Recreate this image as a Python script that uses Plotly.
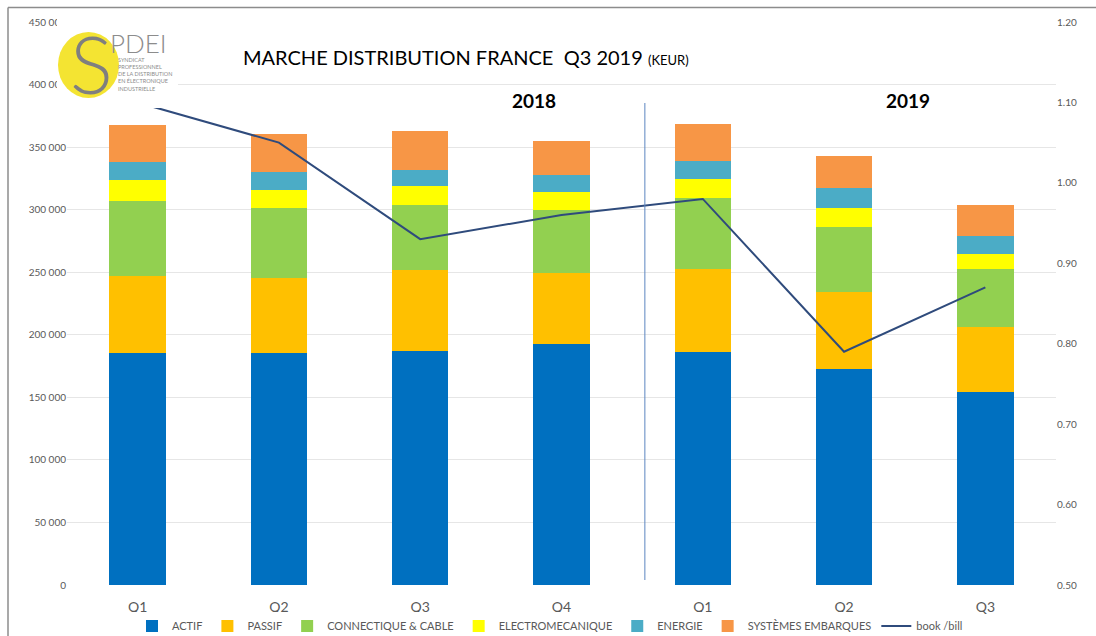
import plotly.graph_objects as go

quarters = ["Q1", "Q2", "Q3", "Q4", "Q1", "Q2", "Q3"]
actif = [185200, 185200, 187400, 192700, 186000, 172700, 154000]
passif = [61600, 60000, 64500, 56500, 66700, 61300, 52000]
connectique = [60000, 56000, 52200, 50700, 56500, 52000, 46700]
electromecanique = [16600, 14700, 15000, 14600, 15200, 15000, 12000]
energie = [14600, 14100, 12800, 13400, 14700, 16200, 14400]
systemes = [29400, 30700, 30600, 26600, 29600, 25400, 24800]
book_bill = [1.10, 1.05, 0.93, 0.96, 0.98, 0.79, 0.87]

series_names = ["ACTIF", "PASSIF", "CONNECTIQUE & CABLE", "ELECTROMECANIQUE", "ENERGIE", "SYSTÈMES EMBARQUES"]
series_values = [actif, passif, connectique, electromecanique, energie, systemes]
series_colors = ["#0070C0", "#FFC000", "#92D050", "#FFFF00", "#4BACC6", "#F79646"]

left_ticks = [0, 50000, 100000, 150000, 200000, 250000, 300000, 350000, 400000, 450000]
left_ticktext = ["0", "50 000", "100 000", "150 000", "200 000", "250 000", "300 000", "350 000", "400 000", "450 000"]

x = list(range(len(quarters)))

fig = go.Figure()
for name, vals, col in zip(series_names, series_values, series_colors):
    fig.add_trace(go.Bar(x=x, y=vals, name=name, marker=dict(color=col, line=dict(width=0)), width=0.4))

fig.add_trace(go.Scatter(x=x, y=book_bill, name="book /bill", mode="lines",
                         line=dict(color="#2F4B7C", width=2), yaxis="y2"))

W, H = 1096, 636
L, R, T, B = 67, 40, 22, 51
pw, ph = W - L - R, H - T - B

def px(xp):
    return (xp - L) / pw

def py(yp):
    return (H - B - yp) / ph

gray = "#595959"
fig.update_layout(
    width=W, height=H,
    margin=dict(l=L, r=R, t=T, b=B, autoexpand=False),
    plot_bgcolor="white", paper_bgcolor="white",
    barmode="stack",
    font=dict(family="Lato, Liberation Sans, sans-serif", color=gray),
    showlegend=True,
    legend=dict(orientation="h", x=px(550), xanchor="center", y=py(626), yanchor="middle",
                font=dict(size=11, color=gray), traceorder="normal", itemwidth=30,
                tracegroupgap=0),
    xaxis=dict(tickmode="array", tickvals=x, ticktext=quarters, range=[-0.5, 6.5],
               showgrid=False, zeroline=False, showline=False, ticks="",
               ticklabelstandoff=12,
               tickfont=dict(size=14, color=gray)),
    yaxis=dict(range=[0, 450000], tickmode="array", tickvals=left_ticks, ticktext=left_ticktext,
               showgrid=True, gridcolor="#E6E6E6", gridwidth=1, zeroline=False,
               showline=False, ticks="", tickfont=dict(size=10, color=gray)),
    yaxis2=dict(range=[0.5, 1.2], overlaying="y", side="right", dtick=0.1, tickformat=".2f",
                showgrid=False, zeroline=False, showline=False, ticks="",
                tickfont=dict(size=10, color=gray)),
)

shapes = [
    # separator between years
    dict(type="line", xref="x", yref="paper", x0=3.59, x1=3.59, y0=py(580), y1=py(103),
         line=dict(color="#5B86C0", width=1), layer="above"),
    # logo background
    dict(type="rect", xref="paper", yref="paper", x0=px(57), x1=px(178), y0=py(108), y1=py(12),
         fillcolor="white", line=dict(width=0), layer="above"),
    dict(type="circle", xref="paper", yref="paper", x0=px(58), x1=px(119), y0=py(98), y1=py(32),
         fillcolor="#F4E432", line=dict(width=0), layer="above"),
    # frame
    dict(type="line", xref="paper", yref="paper", x0=px(8), x1=px(1096), y0=py(7.5), y1=py(7.5),
         line=dict(color="#8C8C8C", width=1.5), layer="above"),
    dict(type="line", xref="paper", yref="paper", x0=px(8), x1=px(8), y0=py(7.5), y1=py(640),
         line=dict(color="#8C8C8C", width=1.5), layer="above"),
]
fig.update_layout(shapes=shapes)

ann = [
    dict(text="S", x=px(91), y=py(63), font=dict(size=80, color="#7F7F7F", family="Lato", weight=300),
         xanchor="center", yanchor="middle"),
    dict(text="PDEI", x=px(138), y=py(43), font=dict(size=26, color="#8C8C8C", family="Lato", weight=300),
         xanchor="center", yanchor="middle"),
    dict(text="SYNDICAT<br>PROFESSIONNEL<br>DE LA DISTRIBUTION<br>EN ÉLECTRONIQUE<br>INDUSTRIELLE",
         x=px(116), y=py(74), font=dict(size=5.5, color="#8C8C8C", family="Lato"),
         xanchor="left", yanchor="middle", align="left"),
    dict(text="MARCHE DISTRIBUTION FRANCE  Q3 2019 <span style='font-size:13px'>(KEUR)</span>",
         x=px(241), y=py(57), font=dict(size=20, color="#000000", family="Lato"),
         xanchor="left", yanchor="middle"),
    dict(text="<b>2018</b>", x=px(534), y=py(100), font=dict(size=19, color="#000000", family="Lato"),
         xanchor="center", yanchor="middle"),
    dict(text="<b>2019</b>", x=px(908), y=py(100), font=dict(size=19, color="#000000", family="Lato"),
         xanchor="center", yanchor="middle"),
]
for a in ann:
    a.update(xref="paper", yref="paper", showarrow=False)
fig.update_layout(annotations=ann)

fig.write_html("out.html", config={"displayModeBar": False},
               post_script="document.body.style.margin='0';document.body.style.overflow='hidden';")
